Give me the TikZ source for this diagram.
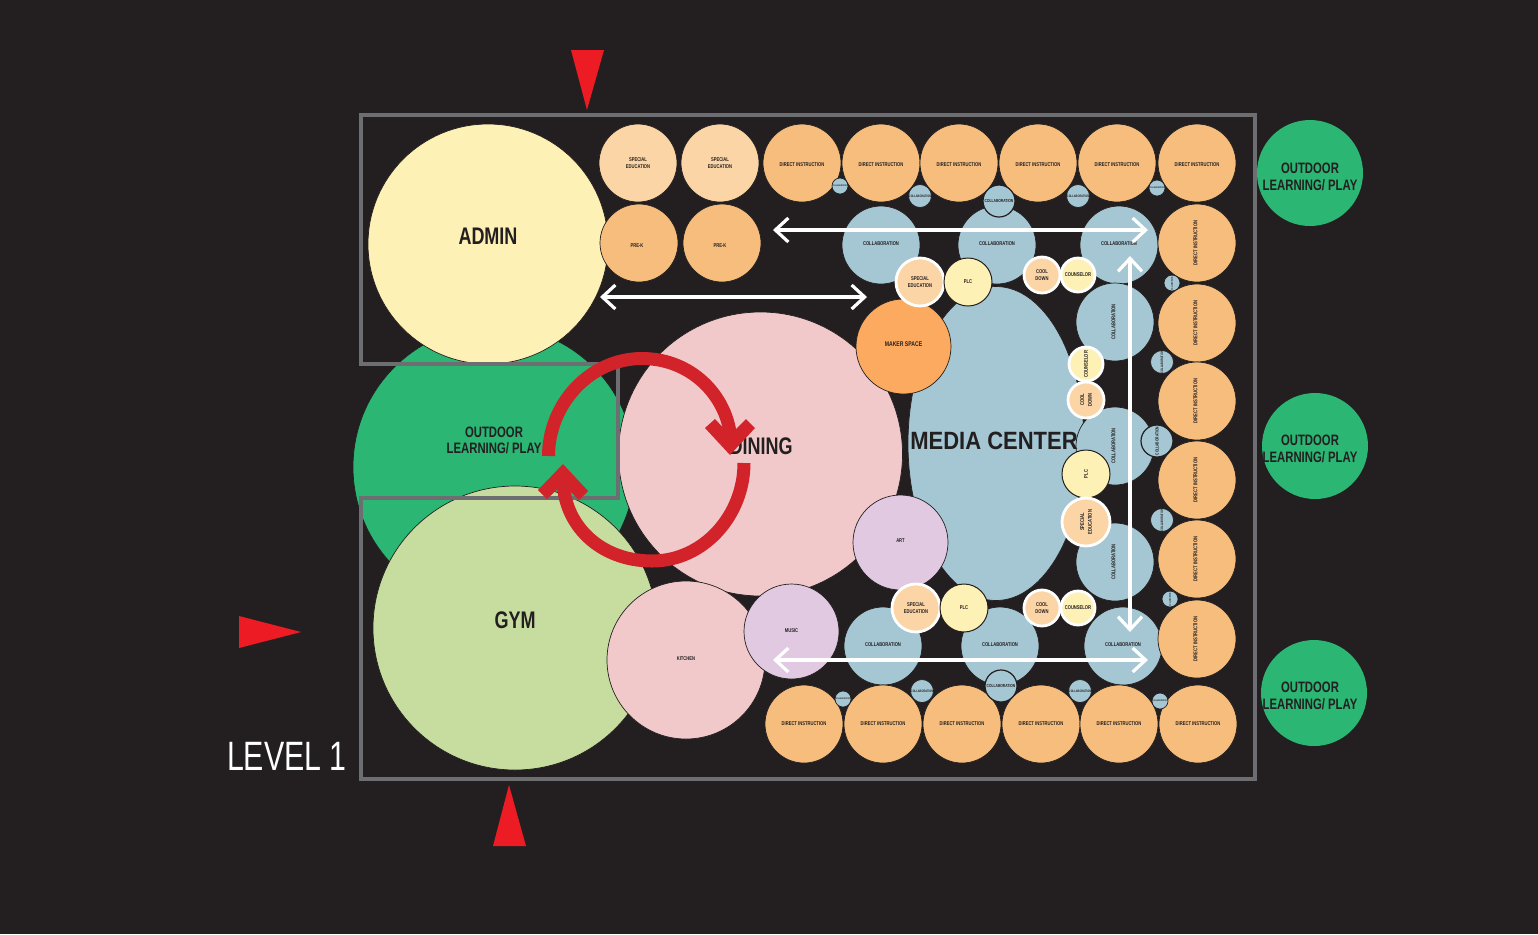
\documentclass[tikz,border=0pt]{standalone}
\usepackage{fontspec}
\setmainfont{Liberation Sans}[FakeStretch=0.75]
\newfontfamily\widerfont{Liberation Sans}[FakeStretch=0.88]
\newfontfamily\levelfont{Liberation Sans}[FakeStretch=0.74]
\usetikzlibrary{arrows.meta,shapes.geometric}
\definecolor{bg}{HTML}{231F20}
\definecolor{cadmin}{HTML}{FDF1B5}
\definecolor{cgreen}{HTML}{2BB673}
\definecolor{cgym}{HTML}{C7DDA0}
\definecolor{cpink}{HTML}{F2C9CB}
\definecolor{clilac}{HTML}{E1C9E1}
\definecolor{cmaker}{HTML}{FBAA60}
\definecolor{cblue}{HTML}{A4C7D3}
\definecolor{corange}{HTML}{F6BD7D}
\definecolor{cpeach}{HTML}{FBD5A5}
\definecolor{cred}{HTML}{D2232A}
\definecolor{ctri}{HTML}{ED1C24}
\definecolor{cgrey}{HTML}{6D6E71}
\newcommand{\nudge}[2]{\raisebox{#1}[\height][\depth]{#2}}
\tikzset{
  x=0.5pt,y=-0.5pt,
  dot/.style={circle,draw=bg,line width=.35pt,inner sep=0pt,minimum size=#1*1pt,text=bg,align=center,font=\bfseries},
  di/.style={dot=39,fill=corange,font=\bfseries\fontsize{2.75}{3.2}\selectfont},
  co/.style={dot=39,fill=cblue,font=\bfseries\fontsize{2.75}{3.2}\selectfont},
  cosa/.style={dot=8,fill=cblue,font=\bfseries\fontsize{1.15}{2}\selectfont},
  cosb/.style={dot=11.5,fill=cblue,font=\bfseries\fontsize{1.7}{2}\selectfont},
  cosc/.style={dot=16,fill=cblue,line width=.6pt,font=\bfseries\fontsize{2.2}{3}\selectfont},
  ringed/.style={draw=white,line width=1.4pt},
  sm/.style={font=\bfseries\fontsize{2.75}{3.9}\selectfont},
  speced/.style={dot=24,fill=cpeach,ringed,sm},
  plc/.style={dot=24,fill=cadmin,line width=.5pt,sm},
  cool/.style={dot=18,fill=cpeach,ringed,sm},
  couns/.style={dot=17,fill=cadmin,ringed,sm},
  yard/.style={dot=53,fill=cgreen,draw=none},
  yardtext/.style={text=bg,align=center,inner sep=0pt,font=\bfseries\fontsize{7.55}{8.2}\selectfont},
  big/.style={text=bg,font=\bfseries\fontsize{12}{14}\selectfont,inner sep=0pt},
  frame/.style={draw=cgrey,line width=1.55pt,line join=miter},
  flow/.style={draw=white,line width=1.6pt,{Straight Barb[length=6.5pt,width=12pt,line width=1.6pt]}-{Straight Barb[length=6.5pt,width=12pt,line width=1.6pt]}},
  swirl/.style={draw=cred,line width=6.5pt},
  swirlhead/.style={fill=cred},
  entry/.style={fill=ctri}
}
\begin{document}
\begin{tikzpicture}
\useasboundingbox (0,0) rectangle (1538,934);
\fill[bg] (0,0) rectangle (1538,934);
% large rooms
\node[dot=141,fill=cgreen] (playbig) at (494,467) {};
\node[dot=120,fill=cadmin] (admin) at (488,244) {};
\node[dot=142,fill=cpink] (dining) at (760.5,454) {};
\node[dot=142,fill=cgym] (gym) at (515,628) {};
\node[dot=79,fill=cpink] (kitchen) at (686,660) {};
\node[ellipse,draw=bg,line width=.35pt,fill=cblue,inner sep=0pt,minimum width=88pt,minimum height=157pt] (media) at (996,443.5) {};
% collaboration
\node[co] (c1) at (881,245) {\nudge{.5pt}{COLLABORATION}};
\node[co] (c2) at (997,245) {\nudge{.5pt}{COLLABORATION}};
\node[co] (c3) at (1119,245) {\nudge{.5pt}{COLLABORATION}};
\node[co,rotate=90] (c4) at (1115,322) {\nudge{.8pt}{COLLABORATION}};
\node[co,rotate=90] (c5) at (1115,446) {\nudge{.8pt}{COLLABORATION}};
\node[co,rotate=90] (c6) at (1115,562) {\nudge{.8pt}{COLLABORATION}};
\node[co] (c7) at (883,646) {\nudge{.5pt}{COLLABORATION}};
\node[co] (c8) at (1000,646) {\nudge{.5pt}{COLLABORATION}};
\node[co] (c9) at (1123,646) {\nudge{.5pt}{COLLABORATION}};
% direct instruction
\node[dot=39,fill=cpeach,font=\bfseries\fontsize{2.75}{3.3}\selectfont] (se1) at (638,163) {SPECIAL\\EDUCATION};
\node[dot=39,fill=cpeach,font=\bfseries\fontsize{2.75}{3.3}\selectfont] (se2) at (720,163) {SPECIAL\\EDUCATION};
\node[di] (pk1) at (639,243) {\nudge{-1.3pt}{\hspace*{-2pt}PRE-K}};
\node[di] (pk2) at (722,243) {\nudge{-1.3pt}{\hspace*{-2pt}PRE-K}};
\foreach \n/\x in {1/802,2/881,3/959,4/1038,5/1117,6/1197}
  \node[di] (ta\n) at (\x,163) {\nudge{-1pt}{DIRECT INSTRUCTION}};
\foreach \n/\y in {1/243,2/323,3/401,4/480,5/559,6/639}
  \node[di,rotate=90] (ra\n) at (1197,\y) {\nudge{.8pt}{DIRECT INSTRUCTION}};
\foreach \n/\x in {1/804,2/883,3/962,4/1041,5/1119,6/1198}
  \node[di] (ba\n) at (\x,724) {DIRECT INSTRUCTION};
% small collaboration
\node[cosa] (s1) at (840,186) {COLLABORATION};
\node[cosb] (s2) at (920,196) {COLLABORATION};
\node[cosc] (s3) at (999,201) {COLLABORATION};
\node[cosb] (s4) at (1078,196) {COLLABORATION};
\node[cosa] (s5) at (1157,188) {COLLABORATION};
\node[cosa,rotate=90] (s6) at (1172,283) {COLLABORATION};
\node[cosb,rotate=90] (s7) at (1162,362) {COLLABORATION};
\node[cosc,rotate=90] (s8) at (1157,441) {COLLABORATION};
\node[cosb,rotate=90] (s9) at (1162,520) {COLLABORATION};
\node[cosa,rotate=90] (s10) at (1170,599) {COLLABORATION};
\node[cosa] (s11) at (843,699) {COLLABORATION};
\node[cosb] (s12) at (922,691) {COLLABORATION};
\node[cosc] (s13) at (1001,686) {COLLABORATION};
\node[cosb] (s14) at (1080,691) {COLLABORATION};
\node[cosa] (s15) at (1160,701) {COLLABORATION};
% special rooms
\node[dot=47.5,fill=cmaker,font=\bfseries\fontsize{3.4}{4}\selectfont] (maker) at (903.5,346.5) {\nudge{1pt}{MAKER SPACE}};
\node[dot=47.5,fill=clilac,font=\bfseries\fontsize{2.75}{3.2}\selectfont] (art) at (900.5,542.5) {\nudge{1pt}{ART}};
\node[dot=47.5,fill=clilac,font=\bfseries\fontsize{2.75}{3.2}\selectfont] (music) at (791.5,631.5) {\nudge{.5pt}{MUSIC}};
\node[speced] (i1) at (920,282) {SPECIAL\\EDUCATION};
\node[plc] (i2) at (968,282) {PLC};
\node[cool] (i3) at (1042,275) {COOL\\DOWN};
\node[couns] (i4) at (1078,275) {COUNSELOR};
\node[couns,rotate=90] (i5) at (1086,364) {COUNSELOR};
\node[cool,rotate=90] (i6) at (1086,400) {COOL\\DOWN};
\node[plc,rotate=90] (i7) at (1086,474) {PLC};
\node[speced,rotate=90] (i8) at (1086,522) {SPECIAL\\EDUCATION};
\node[speced] (i9) at (916,608) {SPECIAL\\EDUCATION};
\node[plc] (i10) at (964,608) {PLC};
\node[cool] (i11) at (1042,608) {COOL\\DOWN};
\node[couns] (i12) at (1078,608) {COUNSELOR};
% outdoor
\node[yard] (o1) at (1310,173) {};
\node[yard] (o2) at (1315,446) {};
\node[yard] (o3) at (1314,693) {};
\node[yardtext] (lo1) at (1310,177) {OUTDOOR\\LEARNING/ PLAY};
\node[yardtext] (lo2) at (1310,449) {OUTDOOR\\LEARNING/ PLAY};
\node[yardtext] (lo3) at (1310,696) {OUTDOOR\\LEARNING/ PLAY};
% labels of large rooms
\node[big] (ladmin) at (488,236) {ADMIN};
\node[big] (ldining) at (761,446) {DINING};
\node[big] (lgym) at (515,620) {GYM};
\node[text=bg,font=\widerfont\bfseries\fontsize{12.5}{14}\selectfont,inner sep=0pt] (lmedia) at (994,441) {MEDIA CENTER};
\node[yardtext] (lplay) at (494,440.5) {OUTDOOR\\LEARNING/ PLAY};
\node[text=bg,font=\bfseries\fontsize{2.75}{3.2}\selectfont,inner sep=0pt] (lkitchen) at (686,658.5) {KITCHEN};
\node[text=white,font=\levelfont\fontsize{20.5}{24}\selectfont,inner sep=0pt] (llevel) at (287,756) {LEVEL 1};
% frames
\draw[frame] (361,364) -- (361,115) -- (1255,115) -- (1255,779) -- (361,779) -- (361,498) -- (618,498) -- (618,364) -- cycle;
% circulation
\coordinate (w1a) at (773,230); \coordinate (w1b) at (1148,230);
\coordinate (w2a) at (600,297); \coordinate (w2b) at (867,297);
\coordinate (w3a) at (773,660); \coordinate (w3b) at (1148,660);
\coordinate (w4a) at (1130,256); \coordinate (w4b) at (1130,632);
\draw[flow] (w1a) -- (w1b);
\draw[flow] (w2a) -- (w2b);
\draw[flow] (w3a) -- (w3b);
\draw[flow] (w4a) -- (w4b);
\draw[swirl] (548.5,456) .. controls (548.5,404) and (590,358.5) .. (642,358.5) .. controls (694,358.5) and (731,400) .. (731,445);
\fill[swirlhead] (705,428) -- (715,419) -- (730,435) -- (746,419) -- (755,428) -- (730,455) -- cycle;
\draw[swirl] (744,463) .. controls (744,515) and (704,561) .. (652,561) .. controls (600,561) and (563,525) .. (563,478);
\fill[swirlhead] (563,464) -- (538,490) -- (547,499) -- (563,484) -- (579,500) -- (588,491) -- cycle;
% entries
\fill[entry] (571,50) -- (604,50) -- (587,110) -- cycle;
\fill[entry] (509,785) -- (493,846) -- (526,846) -- cycle;
\fill[entry] (239,616) -- (239,648) -- (301,632) -- cycle;
\end{tikzpicture}
\end{document}
